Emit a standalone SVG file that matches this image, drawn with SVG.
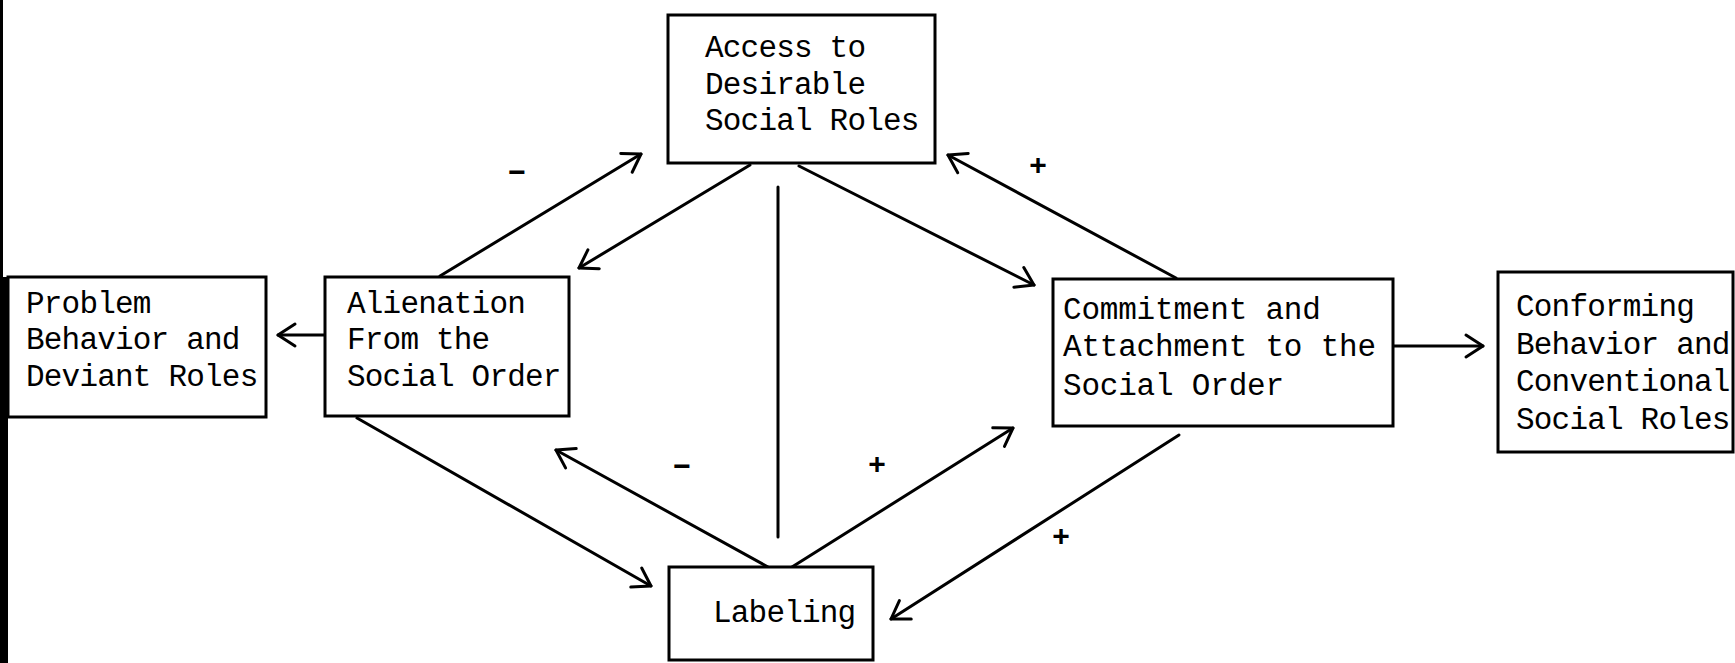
<svg xmlns="http://www.w3.org/2000/svg" width="1735" height="663" viewBox="0 0 1735 663">
<style>
.box{fill:#fff;stroke:#000;stroke-width:3}
.t{font-family:"Liberation Mono",monospace;font-size:31px;letter-spacing:-0.8px;fill:#000}
.w{letter-spacing:-0.2px}
.c{stroke:#000;stroke-width:3;fill:none;stroke-linecap:round}
.s{font-family:"Liberation Sans",sans-serif;font-size:30px;font-weight:bold;fill:#000;text-anchor:middle}
</style>
<defs>
<marker id="a" markerUnits="userSpaceOnUse" markerWidth="26" markerHeight="28" refX="21" refY="13" orient="auto" style="overflow:visible">
<path d="M4,2 L21,13 L4,24" fill="none" stroke="#000" stroke-width="3" stroke-linecap="round" stroke-linejoin="round"/>
</marker>
</defs>
<rect width="1735" height="663" fill="#fff"/>
<rect x="0" y="0" width="3" height="277" fill="#000"/>
<rect x="0" y="277" width="8" height="386" fill="#000"/>
<g id="connectors">
<line class="c" x1="324" y1="335" x2="278" y2="335" marker-end="url(#a)"/>
<line class="c" x1="440" y1="276" x2="641" y2="154" marker-end="url(#a)"/>
<line class="c" x1="750" y1="165" x2="579" y2="268" marker-end="url(#a)"/>
<line class="c" x1="799" y1="166" x2="1034" y2="285" marker-end="url(#a)"/>
<line class="c" x1="1176" y1="278" x2="948" y2="155" marker-end="url(#a)"/>
<line class="c" x1="1394" y1="346" x2="1483" y2="346" marker-end="url(#a)"/>
<line class="c" x1="357" y1="418" x2="651" y2="586" marker-end="url(#a)"/>
<line class="c" x1="768" y1="567" x2="556" y2="450" marker-end="url(#a)"/>
<line class="c" x1="792" y1="567" x2="1013" y2="428" marker-end="url(#a)"/>
<line class="c" x1="1179" y1="435" x2="891" y2="619" marker-end="url(#a)"/>
<line class="c" x1="778" y1="187" x2="778" y2="537"/>
</g>
<g id="signs">
<text class="s" x="517" y="182">−</text>
<text class="s" x="1038" y="175">+</text>
<text class="s" x="682" y="476">−</text>
<text class="s" x="877" y="474">+</text>
<text class="s" x="1061" y="546">+</text>
</g>
<g id="access">
<rect class="box" x="668" y="15" width="267" height="148"/>
<text class="t" x="705" y="57">Access to</text>
<text class="t" x="705" y="94">Desirable</text>
<text class="t" x="705" y="130">Social Roles</text>
</g>
<g id="problem">
<rect class="box" x="8" y="277" width="258" height="140"/>
<text class="t" x="26" y="313">Problem</text>
<text class="t" x="26" y="349">Behavior and</text>
<text class="t" x="26" y="386">Deviant Roles</text>
</g>
<g id="alienation">
<rect class="box" x="325" y="277" width="244" height="139"/>
<text class="t" x="347" y="313">Alienation</text>
<text class="t" x="347" y="349">From the</text>
<text class="t" x="347" y="386">Social Order</text>
</g>
<g id="commitment">
<rect class="box" x="1053" y="279" width="340" height="147"/>
<text class="t w" x="1063" y="319">Commitment and</text>
<text class="t w" x="1063" y="356">Attachment to the</text>
<text class="t w" x="1063" y="395">Social Order</text>
</g>
<g id="conforming">
<rect class="box" x="1498" y="272" width="235" height="180"/>
<text class="t" x="1516" y="316">Conforming</text>
<text class="t" x="1516" y="354">Behavior and</text>
<text class="t" x="1516" y="391">Conventional</text>
<text class="t" x="1516" y="429">Social Roles</text>
</g>
<g id="labeling">
<rect class="box" x="669" y="567" width="204" height="93"/>
<text class="t" x="713" y="622">Labeling</text>
</g>
</svg>
